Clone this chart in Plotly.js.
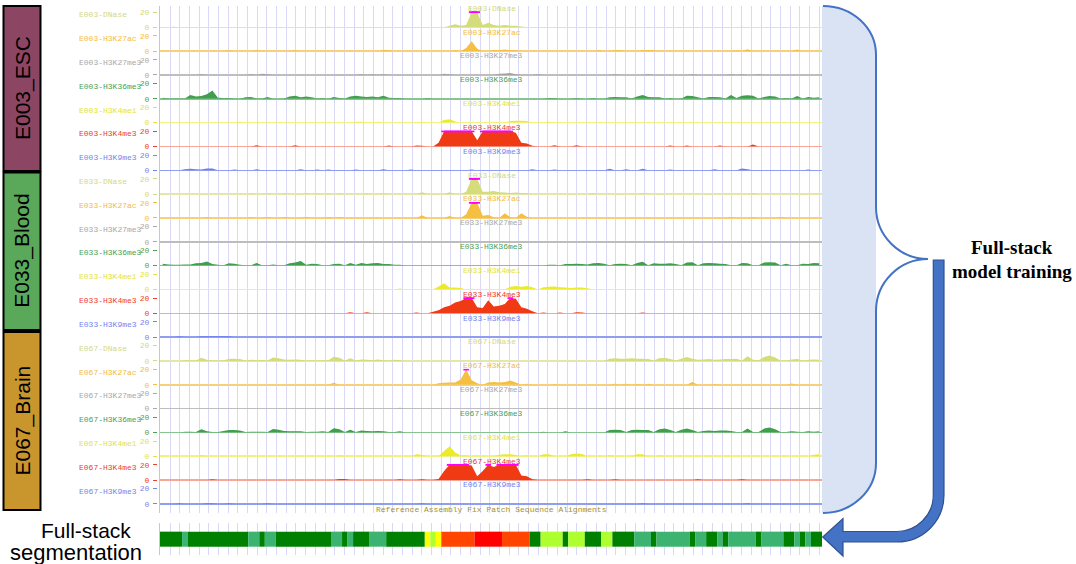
<!DOCTYPE html>
<html><head><meta charset="utf-8">
<script src="https://cdn.plot.ly/plotly-3.0.1.min.js"></script>
<style>html,body{margin:0;padding:0;background:#fff;}#chart{width:1076px;height:564px;}</style>
</head><body><div id="chart"></div>
<script>
// ---------------- DATA ----------------
const NBINS = 120; // 200-bp bins across the window
const sampleIds = ['E003','E033','E067'];
const sampleNames = ['E003_ESC','E033_Blood','E067_Brain'];
const marks = ['DNase','H3K27ac','H3K27me3','H3K36me3','H3K4me1','H3K4me3','H3K9me3'];

const E003_DNase = [
0,0,0.8,0,0,0,0,0,0,0,0,0,0,0,0,0,0,0,0,0,
0,0,0,0,0,0,0,0,0,0,0.8,0,0,0,0,0,0,0,0,0,
0,0,0,0,0,0,0,0,0,0,0,0,2,4,2,3,25,25,3,6,
3,2,3,2,2,1,0,0,0,0,0,0,0,0,0,0,0,0,0,0,
0,0,0,0,0,0,0,0,0,0,0,0,0,0,0,0,0,0,0,0,
0,0,0,0,0,0.7,0,0,0.5,0,0,0,0,0,0,0,0,0,0,0];
const E003_H3K27ac = [
0,0,0,0,0,0,0,0,0,0,0,0,1,0,0,0,0,1.2,0,0,
0,0,0,0,1.2,0,0,0,0,0,0,0,0,0,0,0,0,0,0,0,
1.5,1,0,0,0,0,0,0,0,0,0,0,0,1,0,4,13,3,0,0,
1.5,1,2,1,1,0,0,0,0,0,0,0,0,0,0,0,0,0,0,1,
0,0,1.2,1.2,0,0,0,1.2,1.2,1,0,0,0,0,0,0,0,0,0,0,
0,0,0,0,1,0,2.5,0,0,0,0,0,0,0,0,2,0,0,0,0];
const E003_H3K27me3 = [
0,0,0,0,0,0,0,1,0,0,0,0,0,0,0,0,1,0,1.5,1,
0,0,0,0,0,0,0,0,0,0,0,0,0,0,0,0,1,0,1,0,
1,0,0,0,0,0,0,0,0,0,0,1.5,1,0,0,0,0,0,0,0,
0,1.5,2,2.5,1,0,0,0,1,0,0,0,0,0,0,0,0,0,0,0,
0,0,1,0,0,0,0,0,1,0,0,0,0,0,0,0,1,0,0,0,
0,0,0,1,0,1,0,0,1,0,0,0,0,0,0,0,0,0,0,0];
const E003_H3K36me3 = [
1.5,0.5,0.5,0.5,0.5,5,3,3.5,6,11,1.5,1,1,0.5,0,2,2.5,0.5,0.5,2.5,
0,0,0.5,3,4,2,3,2,0.5,1,0,2.5,1,0.5,3,4,3,2.5,3,2,
4,1.5,1,1,0,0,0,0,1,0,0,0,0,0,0,0,0,0,0,0,
0,0,0,0,0,0,0,0,0,0,1,1,0,0,0,1,0,0,1,0,
0,2,2.5,2,2,0.5,3,5,2.5,2,2,0.5,1,0,0.5,4,3.5,2,0.5,2.5,
2.5,2,0.5,5,1,4,4.5,4,0.5,2.5,3.5,3,0.5,1,0.5,3.5,0.5,2.5,1.5,2];
const E003_H3K4me1 = [
0,0,0,0,0,0,0,0,0,0,0,0,0,0,1,0,0,0,0,0,
0,0,0,0,0,0,0,0,0,0,0,0,0,0,0,1,1,0,0,1,
0,0,0,0,0,0,0,1.2,0,0,0,3.5,4.5,1.5,0,0,0,0,0,0,
0,0,0,2,2.5,2.5,2,0,0,0,1,0,0,0,0,0,0,0,0,0,
0,0,0,0,0,0,0,0,0,0,0,0,0,0,0,0,0,0,0,0,
0,0,0,0,0,0,0,0,0,0,0,0,0,0,0,0,0,0,0,0];
const E003_H3K4me3 = [
0,0,0,0,0,0,0,0,0,0,0,0,0,0,0,0,0,1.5,0,0,
0,0,0,0,1.5,0,0,0,0,0,0,0,0,0,0,0,0,0,0,0,
0,1.2,0,0,0,0,1.2,1,0,0,5,25,25,25,25,25,25,8,25,25,
25,25,25,25,18,5,4,1,0,0,0,1.5,0,0,0,1.5,0,0,0,0,
0,0,0,0,0,0,0,0,0,0,0,0,1.2,0,0,1.2,0,0,0,0,
0,1.2,0,0,0,0,0,2.5,0,0,0,0,0,0,0,0,0,0,0,0];
const E003_H3K9me3 = [
0,0,0,0,1.5,2,1.5,1,2.5,2.5,0,0,0,1,0,0,0,1.2,0,0,
0,0,0,0,0,1.2,0,0,1,0,1,0,0,0,0,1,0,0,0,0,
1.2,0,0,0,0,1,0,0,0,0,0,0,0,0,0,0,1,0,0,0,
0,0,0,0,0,0,0,1.2,0,0,0,1,0,0,0,0,0,0,0,0,
0,2,0,0,1.2,0,0,2,0,0,0,0,1,0,0,0,0,0,0,0,
1.2,0,0,0,0,2.5,1.5,0,0,0,0,0,0,0,0,0,0,1,0,0];

const E033_DNase = [
0,0,0,0,0,0,0,0,0,0,0,0,0,0,0,0,0.8,0,0,0.8,
0,0,0.8,0,0,0,1,0,0.8,0,0.8,0,0.8,0,0,0,0,0.8,0,0,
1,0,0,0,0,0,0,2.5,0,0,0,0,2.5,0,0,3,25,25,3,3,
4,2.5,2,1.5,2,1.5,1,0,0,0,0,0,0,0,0,0,0,0,1,0,
0,0,0,0,0,0,0,1,0,0,0,0,0,0,0,0,0,0,0,0,
0,0,0,0,0,0,0,1,0,0,0,0,0,0,0,0,0,0,0,0];
const E033_H3K27ac = [
0,0,0,0,0,0,0,0,0.8,0,0,0,0,0,0,0,0.8,0,0,0.8,
0,0,0.8,0,0,0,1,0,0,0,0.8,0,0.8,0,0,0,0,0,0,0,
0,0,0,0,0,0,0,3.5,0,0,0,0,2.5,0,0,5,25,25,3,4,
1,0,6,1,0,6,1.5,0,0,0,0,0,0,0,0,0,0,0,0,0,
0,0,0,0,0,0,0,0,0,0,0,0,0,0,0,0,0,0,0,0,
0,0,0,1,0,0,0,1,0,0,0,0,1,0,0,0,0,0,0,0];
const E033_H3K27me3 = [
0,0,0,0,0,0,0,0,0,0,0,0,0,0,0,0,0,0,0,0,
0,0,0,0,0,0,0,0,0,0,0,0,0,0,0,0,0,0,0,0,
0,0,0,0,0,0,0,0,0,0,0,0,0,0,0,0,0,0,0,0,
0,0,0,0,0,0,0,0,0,0,0,0,0,0,0,0,0,0,0,0,
0,0,0,0,0,0,0,0,0,0,0,0,0,0,0,0,0,0,0,0,
0,0,0,0,0,0,0,0,0,0,0,0,0,0,0,0,0,0,0,0];
const E033_H3K36me3 = [
2.5,1.5,1,1,1.5,1.5,3,3.5,5.5,2,1,0.5,3,2.5,1,0.5,0.5,3.5,0.5,0.5,
1.5,0.5,0.5,3,4,6,1,2.5,2,0.5,0.5,2,2.5,0.5,3.5,1,3.5,2,3,3.5,
2,2,1,1,0,0,0,0,0,0,0,0,0,0,0,0,0,0,0,0,
0,0,0,0,0,0,0,0,0,0,1,1,0.5,2,2,2.5,2,1.5,3,3.5,
2.5,0.5,2,2.5,2,0.5,3.5,5,0.5,3,2.5,2.5,3,2,0.5,4,4.5,0.5,3,3.5,
3,2.5,2,0.5,0.5,3.5,3,0.5,0.5,4,4.5,4,0.5,2.5,0.5,0.5,2.5,2,3.5,3];
const E033_H3K4me1 = [
0,0,0,0,0,0,0,0,0,0,0,0,0,0,0,0,0,0,0,0,
0,0,0,0,0,0,0,0,0,0,0,0,0,0,0,0,0,0,0,0,
0,0,0,1.2,0,0,0,0,0,0,4,8,2.5,2.5,2,0,1,0,0,0,
0,0,0,3.5,4.5,3.5,4.5,3,0,3,3.5,4,3,2.5,2,2.5,2.5,1.5,0,0,
0,0,0,0,0,0,0,0,0,0,0,0,0,0,0,0,0,0,0,0,
0,0,0,0,0,0,0,0,0,0,0,0,0,0,0,0,0,0,0,0];
const E033_H3K4me3 = [
0,0,0,0,0,0,0,0,0,0,0,0,0,0,0,0,0,0,0,0,
0,0,0,0,0,0,0,0,0,0,0,0,0,0,1.2,0,0,1.2,0,0,
0,0,0,0,0,0,1,0,0,2,4,8,10,14,16,25,25,8,7,17,
9,10,12,25,19,8,6,2.5,0,1,0,0,1,0,0,1.2,1,0,0,0,
0,0,0,0,0,0,0,1,0,0,0,0,0,0,0,0,0,0,0,0,
0,0,0,0,0,0,0,0,0,0,0,0,0,0,0,0,0,0,0,0];
const E033_H3K9me3 = [
0,0,0,1.2,0,0,0,1,1,1,1.2,1,1,0,0,0,0,0,0,0,
0,0,0,0,0,0,0,0,0,0,0,0,0,0,0,0,0,0,0,0,
0,0,0,0,0,0,0,0,0,0,0,0,0,0,0,0,0,0,0,0,
0,0,0,0,0,0,0,0,0,0,0,0,0,0,0,0,0,0,0,0,
0,0,0,0,0,0,0,0,0,0,0,0,0,0,0,0,0,0,0,0,
0,0,0,0,0,0,0,0,0,0,0,0,0,0,0,0,0,0,0,0];

const E067_DNase = [
0,0,0,0,1,1,0.5,4,1.5,0.5,0.5,0.5,3,3,2.5,0.5,1.5,1,1.2,0.5,
4.5,3.5,2,1.5,2,1.5,0.5,1,0.5,1,1,5.5,4,0.5,3.5,0.5,2,1.5,1,2,
1,0.5,1.5,1,0,0,0,0,0,0,0,0,0,0,0,0,0,0,0,0,
0,0,0,0,0,0,0,0,0,0,0,0,0,0,0,0,0,0,0,0,
0,3,3.5,3,3,3.5,3,3,2.5,0.5,3.5,4,2.5,0.5,3,5,3,1.5,2,2.5,
1.5,2,2.5,2.5,3,0.5,6,1.5,1,5,7,4.5,0.5,0.5,2,2.5,0.5,1.5,2,1.5];
const E067_H3K27ac = [
0,0,0,0,0,0,0,0,0,0,0,0,0,0,0,0,0,0,0,0,
0,0,0,0,0,0,0,0,0,0,0,2.5,0,0,0,0,0,0,0,0,
0,0,0,0,0,0,0,0,0,0,2,2.5,3,3,7,22,6,2,0,3,
3.5,3,3.5,5.5,3,0,1.2,0,0,0,0,1,0,0,0,0,0,0,0,0,
0,0,1.2,0,1.2,0,1,0,1.2,0,0,0,0,0,0,0,3.5,0,0,0,
1,0,0,0,0,0,0,0,0,0,0,0,0,0,1.5,0,0,0,0,0];
const E067_H3K27me3 = [
0,0,0,0,0,0,0,0,0,0,0,0,0,0,0,0,0,0,0,0,
0,0,0,0,0,0,0,0,0,0,0,0,0,0,0.8,0,0,0,0,0,
0,0,0,1,0,0,0,0,0,0,0,0,0,0,0,0,0,0,0,0,
0,0,0,0,0,0,0,0,0,0,0,0,0,0,0,0,0,0,0,0,
0,0,0,0,0,0,0,0,0,0,0,0,0,0,0,0.8,0,0,0,0,
0,0,0,0,0,0,0,0,0,0,0,0,0,0,0,0,0,0,0,0];
const E067_H3K36me3 = [
0,0,0,0,1,1,0.5,4,1.5,0.5,0.5,2,3,3,2.5,0.5,1,1,1,0.5,
4.5,3.5,2,1.5,1.5,1.5,0.5,1,1,1.5,0.5,5.5,4,0.5,3.5,0.5,2.5,2,1.5,2,
1.5,0.5,0.5,1.5,0,0,0,0,0,0,0,0,0,0,0,0,0,0,0,0,
0,0,0,0,0,0,0,0,0,1,0,0,0,1.5,0,0,0,0,0,0,
0,3,3.5,3,0.5,3,3.5,3,3,0.5,4,5,3,0.5,3.5,5,3,0.5,2,2.5,
2,2.5,2.5,2,0.5,0.5,5,0.5,0.5,5,6.5,4,0.5,0.5,1.5,1,0.5,1.5,1,1.5];
const E067_H3K4me1 = [
0,0,0,0,0,0,0,1.2,0,0,0,0,0,0,0,0,0,0,0,0,
0,0,0,0,0,0,0,0,0,0,0,0,1,0,0,0,0,0,0,0,
0,0,0,0,0,0,2.5,1.5,0,0,0,7,13,5,1,1,0,0,0,0,
0,2,2.5,2.5,1.5,0,1,0,0,2.5,2.5,0,0,0,2.5,3.5,3,0,0,0,
0,1.2,0,0,0,0,2.5,2.5,0,0,1,0,0,0,0,0,0,0,0,0,
0,0,0,0,0,0,0,0,0,0,0,0,0,0,0,0,0,0,2,2.5];
const E067_H3K4me3 = [
0,0,0,0,0,0,0,0,0,1.2,0,0,0,0,0,0,0,0,0,0,
0,0,0,0,0,0,0,0,0,0,0,0,1.5,1.5,0,0,0,0,0,0,
0,0,0,1,0,0,0,1.2,0,0,1.5,12,25,25,25,25,19,5,12,22,
17,23,25,25,22,6,5,1,0,0,0,0,0,0,0,0,0,1,0,0,
0,0,1,0,0,0,0,0,0,0,0,0,0,0,0,0,0,1.2,0,0,
0,0,0,0,0,1.2,0,0,0,0,0,0,0,0,0,0,0,0,0,0];
const E067_H3K9me3 = [
0,0,0,1,0,0,0,0,1,1,0,0,1,0,0,0,0,0,0,1,
0,0,0,0,0,0,0,0,0,0,0,0,0,0,0,0,0,0,0,0,
0,0,0,0,0,0,0,1,0,0,0,0,0,0,0,0,0,0,0,0,
0,0,0,0,0,0,0,0,0,0,0,0,0,0,0,0,0,0,0,0,
0,0,0,0,0,0,0,1,0,0,0,0,0,0,0,0,0,0,0,0,
0,0,0,0,0,0,0.8,0,0,0,0,0,0,0,0,0,0,0,0,0];

// full-stack segmentation (bin boundaries and state per segment)
const segBounds = [0,4,5,16,18,19,21,31,33,34,35,38,41,48,49,50,51,57,62,67,69,73,74,77,80,82,86,89,90,96,97,99,101,102,103,108,109,113,115,116,117,118,120];
const segStates = ['D','L','D','L','D','L','D','L','D','L','D','L','D','Y','G','Y','O','R','O','D','G','D','G','D','G','D','L','D','L','D','L','D','L','D','L','D','L','D','L','D','L','D'];

const trackData = [
  [E003_DNase,E003_H3K27ac,E003_H3K27me3,E003_H3K36me3,E003_H3K4me1,E003_H3K4me3,E003_H3K9me3],
  [E033_DNase,E033_H3K27ac,E033_H3K27me3,E033_H3K36me3,E033_H3K4me1,E033_H3K4me3,E033_H3K9me3],
  [E067_DNase,E067_H3K27ac,E067_H3K27me3,E067_H3K36me3,E067_H3K4me1,E067_H3K4me3,E067_H3K9me3]
];

// ---------------- STYLE ----------------
const W = 1076, H = 564;
const fillCol  = ['#d5dc7a','#f5bf3f','#a4a4a4','#3f9f4c','#ebeb2c','#f03a14','#6a7ef2'];
const baseCol  = ['#e3e7a8','#f8d07c','#bdbdbd','#88c490','#f2f280','#f6a596','#909ef2'];
const labelCol = ['#d2d884','#f2bc46','#a8a8a8','#4aa055','#e2e246','#ee4030','#7486ee'];
const stateCol = {D:'#008000', L:'#3cb371', Y:'#ffff00', G:'#adff2f', O:'#ff4500', R:'#ff0000'};
const sampleFill = ['#8c4664','#5aa85a','#c9962e'];
const sampleBox = [[6,171],[172.5,330],[332,510]];
const CAP = 20;
const mono = 'Liberation Mono, DejaVu Sans Mono, monospace';
const yp = p => 1 - p / H;
const xp = p => p / W;
const X0 = 160, X1 = 822;
const firstBase = 27.3, step = 23.83, trackH = 16;

const data = [{type:'scatter', x:[], y:[], xaxis:'x', yaxis:'y', hoverinfo:'skip', showlegend:false}];
const layout = {
  width:W, height:H, margin:{l:0,r:0,t:0,b:0}, paper_bgcolor:'#ffffff', plot_bgcolor:'rgba(0,0,0,0)',
  showlegend:false, hovermode:false, font:{family:mono, size:8},
  xaxis:{domain:[xp(X0),xp(X1)], range:[0,NBINS], anchor:'y', showgrid:true, gridcolor:'#d9d9f7', gridwidth:1,
         tickmode:'linear', tick0:1.8126, dtick:1.7564, showticklabels:false, ticks:'', zeroline:false, showline:false, fixedrange:true},
  yaxis:{domain:[yp(512.5), yp(5.5)], range:[0,1], showgrid:false, zeroline:false, showticklabels:false, ticks:'',
         showline:true, linecolor:'#f5b4b4', linewidth:1, fixedrange:true},
  shapes:[], annotations:[]
};

for (let s = 0; s < 3; s++) {
  for (let m = 0; m < 7; m++) {
    const k = s*7 + m, n = k + 2;
    const base = firstBase + step*k;
    const vals = trackData[s][m];
    const xs = vals.map((v,i) => i + 0.5);
    data.push({type:'scatter', mode:'none', x:xs, y:vals.map(v => Math.min(v, CAP)), fill:'tozeroy',
               fillcolor:fillCol[m], xaxis:'x', yaxis:'y'+n, hoverinfo:'skip'});
    data.push({type:'scatter', mode:'lines+markers', x:xs, y:vals.map(v => v >= CAP ? CAP : null),
               line:{color:'#ff00ff', width:2}, marker:{symbol:'line-ew', size:4, line:{width:2, color:'#ff00ff'}},
               connectgaps:false, xaxis:'x', yaxis:'y'+n, hoverinfo:'skip'});
    layout['yaxis'+n] = {
      domain:[yp(base), yp(base - trackH)], range:[0,21], anchor:'free', position:xp(157),
      tickmode:'array', tickvals:[0,20], ticktext:['0','20'], ticks:'outside', ticklen:4, tickwidth:1,
      tickcolor:labelCol[m], tickfont:{family:mono, size:8, color:labelCol[m]}, ticklabelstandoff:2,
      showgrid:false, zeroline:true, zerolinecolor:baseCol[m], zerolinewidth:1.5, showline:false, fixedrange:true
    };
    const name = sampleIds[s] + '-' + marks[m];
    layout.annotations.push({xref:'paper', yref:'paper', x:xp(77), y:yp(base - 12.6), xanchor:'left', yanchor:'middle',
      text:name, showarrow:false, font:{family:mono, size:8, color:labelCol[m]}});
    layout.annotations.push({xref:'paper', yref:'paper', x:xp(491.5), y:yp(base - 19), xanchor:'center', yanchor:'middle',
      text:name, showarrow:false, font:{family:mono, size:8, color:labelCol[m]}});
  }
}

// segmentation track
const segX = [], segW = [], segC = [];
for (let i = 0; i < segStates.length; i++) {
  segX.push((segBounds[i] + segBounds[i+1]) / 2);
  segW.push(segBounds[i+1] - segBounds[i]);
  segC.push(stateCol[segStates[i]]);
}
data.push({type:'bar', x:segX, width:segW, y:segX.map(() => 0.47), base:0.26,
           marker:{color:segC, line:{width:0}}, xaxis:'x', yaxis:'y23', hoverinfo:'skip'});
layout.yaxis23 = {domain:[yp(555), yp(523)], range:[0,1], anchor:'x', showgrid:false, zeroline:false,
                  showticklabels:false, ticks:'', showline:true, linecolor:'#f5b4b4', linewidth:1, fixedrange:true};

layout.annotations.push({xref:'paper', yref:'paper', x:xp(491.5), y:yp(509), xanchor:'center', yanchor:'middle',
  text:'Reference Assembly Fix Patch Sequence Alignments', showarrow:false, font:{family:mono, size:8, color:'#a89228'}});

// sample boxes
for (let s = 0; s < 3; s++) {
  const [t, b] = sampleBox[s];
  layout.shapes.push({type:'rect', xref:'paper', yref:'paper', x0:xp(3.5), x1:xp(40.5), y0:yp(b), y1:yp(t),
    fillcolor:sampleFill[s], line:{color:'#000000', width:2}, layer:'above'});
  layout.annotations.push({xref:'paper', yref:'paper', x:xp(22.5), y:yp((t+b)/2), xanchor:'center', yanchor:'middle',
    text:sampleNames[s], textangle:-90, showarrow:false, font:{family:'Liberation Sans, Arial, sans-serif', size:21, color:'#000'}});
}

// brace and arrow (pixel paths converted to paper coords)
const toPaper = str => str.replace(/(-?\d+(?:\.\d+)?),(-?\d+(?:\.\d+)?)/g, (mm,a,b) => xp(+a).toFixed(5)+','+yp(+b).toFixed(5));
const braceFill = 'M822,6 L823,6 C852.3,6 876,27.9 876,55 L876,463 C876,490.6 852.3,513 823,513 L822,513 Z';
const braceLine = 'M823,6 C852.3,6 876,27.9 876,55 L876,207 C876,235.7 899.3,259 928,259 C899.3,259 876,282.3 876,311 L876,463 C876,490.6 852.3,513 823,513';
const arrowPath = 'M933.3,260 L944,260 L944,495 C944,521 923,542 897,542 L843,542 L843,556 L822.7,537 L843,518.5 L843,531.5 L897,531.5 C917,531.5 933.3,515 933.3,495 Z';
layout.shapes.push({type:'path', xref:'paper', yref:'paper', path:toPaper(braceFill), fillcolor:'#dae3f3', line:{width:0}, layer:'above'});
layout.shapes.push({type:'path', xref:'paper', yref:'paper', path:toPaper(braceLine), line:{color:'#4472c4', width:2}, layer:'above'});
layout.shapes.push({type:'path', xref:'paper', yref:'paper', path:toPaper(arrowPath), fillcolor:'#4472c4', line:{color:'#2f528f', width:1.2}, layer:'above'});

const serif = 'Liberation Serif, Times New Roman, serif';
layout.annotations.push({xref:'paper', yref:'paper', x:xp(1012), y:yp(248), xanchor:'center', yanchor:'middle',
  text:'<b>Full-stack</b>', showarrow:false, font:{family:serif, size:19, color:'#000'}});
layout.annotations.push({xref:'paper', yref:'paper', x:xp(1012), y:yp(271.5), xanchor:'center', yanchor:'middle',
  text:'<b>model training</b>', showarrow:false, font:{family:serif, size:19, color:'#000'}});
const sans = 'Liberation Sans, Arial, sans-serif';
layout.annotations.push({xref:'paper', yref:'paper', x:xp(86), y:yp(530), xanchor:'center', yanchor:'middle',
  text:'Full-stack', showarrow:false, font:{family:sans, size:21, color:'#000'}});
layout.annotations.push({xref:'paper', yref:'paper', x:xp(76), y:yp(552), xanchor:'center', yanchor:'middle',
  text:'segmentation', showarrow:false, font:{family:sans, size:22, color:'#000'}});

Plotly.newPlot('chart', data, layout, {staticPlot:true, displayModeBar:false});
</script></body></html>
